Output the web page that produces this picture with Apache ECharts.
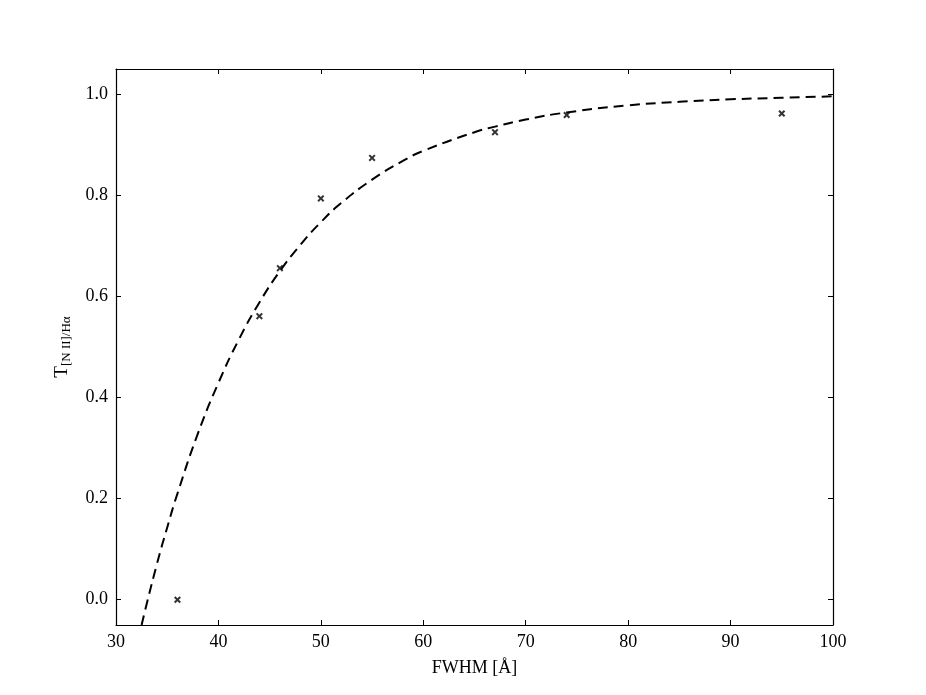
<!DOCTYPE html>
<html>
<head>
<meta charset="utf-8">
<script src="https://cdn.jsdelivr.net/npm/echarts@6/dist/echarts.min.js"></script>
<style>
  html, body { margin: 0; padding: 0; background: #fff; }
  #chart { width: 926px; height: 695px; }
</style>
</head>
<body>
<div id="chart"></div>
<script>
    // measured points
    var fwhm = [36, 44, 46, 50, 55, 67, 74, 95];
    var ratio = [0.0, 0.561, 0.656, 0.794, 0.874, 0.925, 0.959, 0.962];
    // dashed fit curve
    var fitX = [32.5, 33, 34, 35, 36, 38, 40, 42, 44, 46, 48, 50, 52, 55, 58, 60, 65, 67, 70, 74, 80, 85, 90, 95, 100];
    var fitY = [-0.05, -0.008, 0.071, 0.143, 0.210, 0.329, 0.429, 0.515, 0.588, 0.650, 0.702, 0.747, 0.785, 0.831, 0.868, 0.888, 0.925, 0.936, 0.950, 0.964, 0.978, 0.985, 0.990, 0.993, 0.996];
    var xTicks = [30, 40, 50, 60, 70, 80, 90, 100];
    var yTicks = [0.0, 0.2, 0.4, 0.6, 0.8, 1.0];

    var font = '"Liberation Serif", "DejaVu Serif", serif';
    // thick "x" marker
    var crossPath = 'path://M0,2L2,0L5,3L8,0L10,2L7,5L10,8L8,10L5,7L2,10L0,8L3,5Z';

    var chart = echarts.init(document.getElementById('chart'));

    function xAx(pos, show) {
        return {
            type: 'value', position: pos, min: 30, max: 100,
            axisLine: { show: true, onZero: false, lineStyle: { color: '#000', width: 1.2 } },
            axisTick: { show: true, inside: true, length: 5, customValues: xTicks, lineStyle: { color: '#000' } },
            axisLabel: { show: show, customValues: xTicks, color: '#000', fontFamily: font, fontSize: 18, margin: 8 },
            splitLine: { show: false },
            name: show ? 'FWHM [Å]' : '', nameLocation: 'middle', nameGap: 34,
            nameTextStyle: { color: '#000', fontFamily: font, fontSize: 18 }
        };
    }
    function yAx(pos, show) {
        return {
            type: 'value', position: pos, min: -0.05, max: 1.05,
            axisLine: { show: true, onZero: false, lineStyle: { color: '#000', width: 1.2 } },
            axisTick: { show: true, inside: true, length: 5, customValues: yTicks, lineStyle: { color: '#000' } },
            axisLabel: { show: show, customValues: yTicks, color: '#000', fontFamily: font, fontSize: 18, margin: 8,
                formatter: function (v) { return v.toFixed(1); } },
            splitLine: { show: false },
            name: show ? '{m|T}{s|[N II]/Hα}' : '', nameLocation: 'middle', nameGap: 43,
            nameTextStyle: { color: '#000', fontFamily: font,
                rich: {
                    m: { fontFamily: font, fontSize: 19, color: '#000' },
                    s: { fontFamily: font, fontSize: 13, color: '#000', verticalAlign: 'bottom', padding: [9, 0, 0, 0] }
                } }
        };
    }

    chart.setOption({
        backgroundColor: '#fff',
        animation: false,
        grid: { left: 116, right: 93, top: 69, bottom: 70, containLabel: false },
        xAxis: [xAx('bottom', true), xAx('top', false)],
        yAxis: [yAx('left', true), yAx('right', false)],
        series: [{
            type: 'line',
            data: fitX.map(function (x, i) { return [x, fitY[i]]; }),
            smooth: true,
            showSymbol: false,
            clip: true,
            lineStyle: { color: '#000', width: 2, type: [10, 6] }
        }, {
            type: 'scatter',
            data: fwhm.map(function (x, i) { return [x, ratio[i]]; }),
            symbol: crossPath,
            symbolSize: 7,
            itemStyle: { color: '#000' }
        }]
    });
</script>
</body>
</html>
